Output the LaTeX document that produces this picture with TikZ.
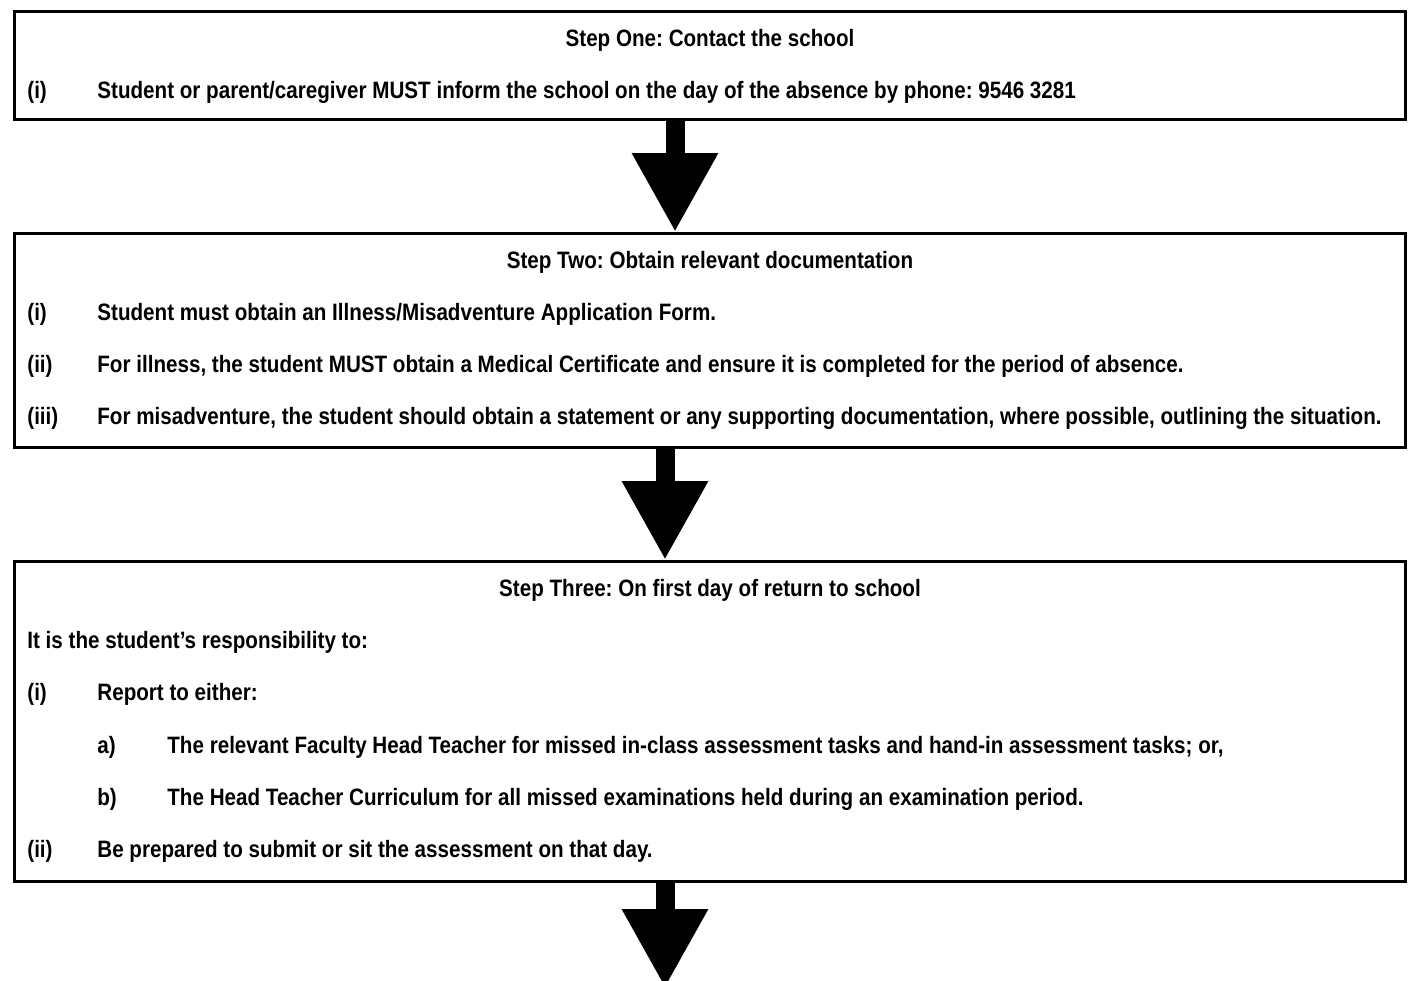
\documentclass[tikz,border=0pt]{standalone}
\usepackage{fontspec}
\setmainfont{Liberation Sans}[FakeStretch=0.87]
\usetikzlibrary{arrows.meta}
\frenchspacing

\begin{document}
\begin{tikzpicture}[x=0.5pt,y=-0.5pt,
    stepbox/.style={draw, line width=1.5pt, minimum width=695.5pt, inner sep=0pt},
    txt/.style={anchor=base west, inner sep=0pt, font=\fontsize{11.85}{14}\selectfont\bfseries},
    ttl/.style={txt, anchor=base},
    bigarrow/.style={line width=9.5pt, -{Triangle[width=40.5pt,length=39.5pt]}}]
  \useasboundingbox (0,0) rectangle (1410,981);
  \node[stepbox, minimum height=54pt]  (one)   at (710,65.5)  {};
  \node[stepbox, minimum height=107pt] (two)   at (710,340.5) {};
  \node[stepbox, minimum height=160pt] (three) at (710,721.5) {};
  \coordinate (next) at (665,988);
  \draw[bigarrow] ([xshift=-17.5pt]one.south) -- ([xshift=-17.5pt]two.north);
  \draw[bigarrow] ([xshift=-22.5pt]two.south) -- ([xshift=-22.5pt]three.north);
  \draw[bigarrow] ([xshift=-22.5pt]three.south) -- (next);
  % step one
  \node[ttl] (t1) at (710,46) {Step One: Contact the school};
  \node[txt] (n11) at (27,98) {(i)};
  \node[txt] (s11) at (97,98) {Student or parent/caregiver MUST inform the school on the day of the absence by phone: 9546 3281};
  % step two
  \node[ttl] (t2) at (710,268) {Step Two: Obtain relevant documentation};
  \node[txt] (n21) at (27,320) {(i)};
  \node[txt] (s21) at (97,320) {Student must obtain an Illness/Misadventure Application Form.};
  \node[txt] (n22) at (27,372) {(ii)};
  \node[txt] (s22) at (97,372) {For illness, the student MUST obtain a Medical Certificate and ensure it is completed for the period of absence.};
  \node[txt] (n23) at (27,424) {(iii)};
  \node[txt] (s23) at (97,424) {For misadventure, the student should obtain a statement or any supporting documentation, where possible, outlining the situation.};
  % step three
  \node[ttl] (t3) at (710,596) {Step Three: On first day of return to school};
  \node[txt] (s30) at (27,648) {It is the student’s responsibility to:};
  \node[txt] (n31) at (27,700) {(i)};
  \node[txt] (s31) at (97,700) {Report to either:};
  \node[txt] (na) at (97,753) {a)};
  \node[txt] (sa) at (167,753) {The relevant Faculty Head Teacher for missed in-class assessment tasks and hand-in assessment tasks; or,};
  \node[txt] (nb) at (97,805) {b)};
  \node[txt] (sb) at (167,805) {The Head Teacher Curriculum for all missed examinations held during an examination period.};
  \node[txt] (n32) at (27,857) {(ii)};
  \node[txt] (s32) at (97,857) {Be prepared to submit or sit the assessment on that day.};
\end{tikzpicture}
\end{document}
